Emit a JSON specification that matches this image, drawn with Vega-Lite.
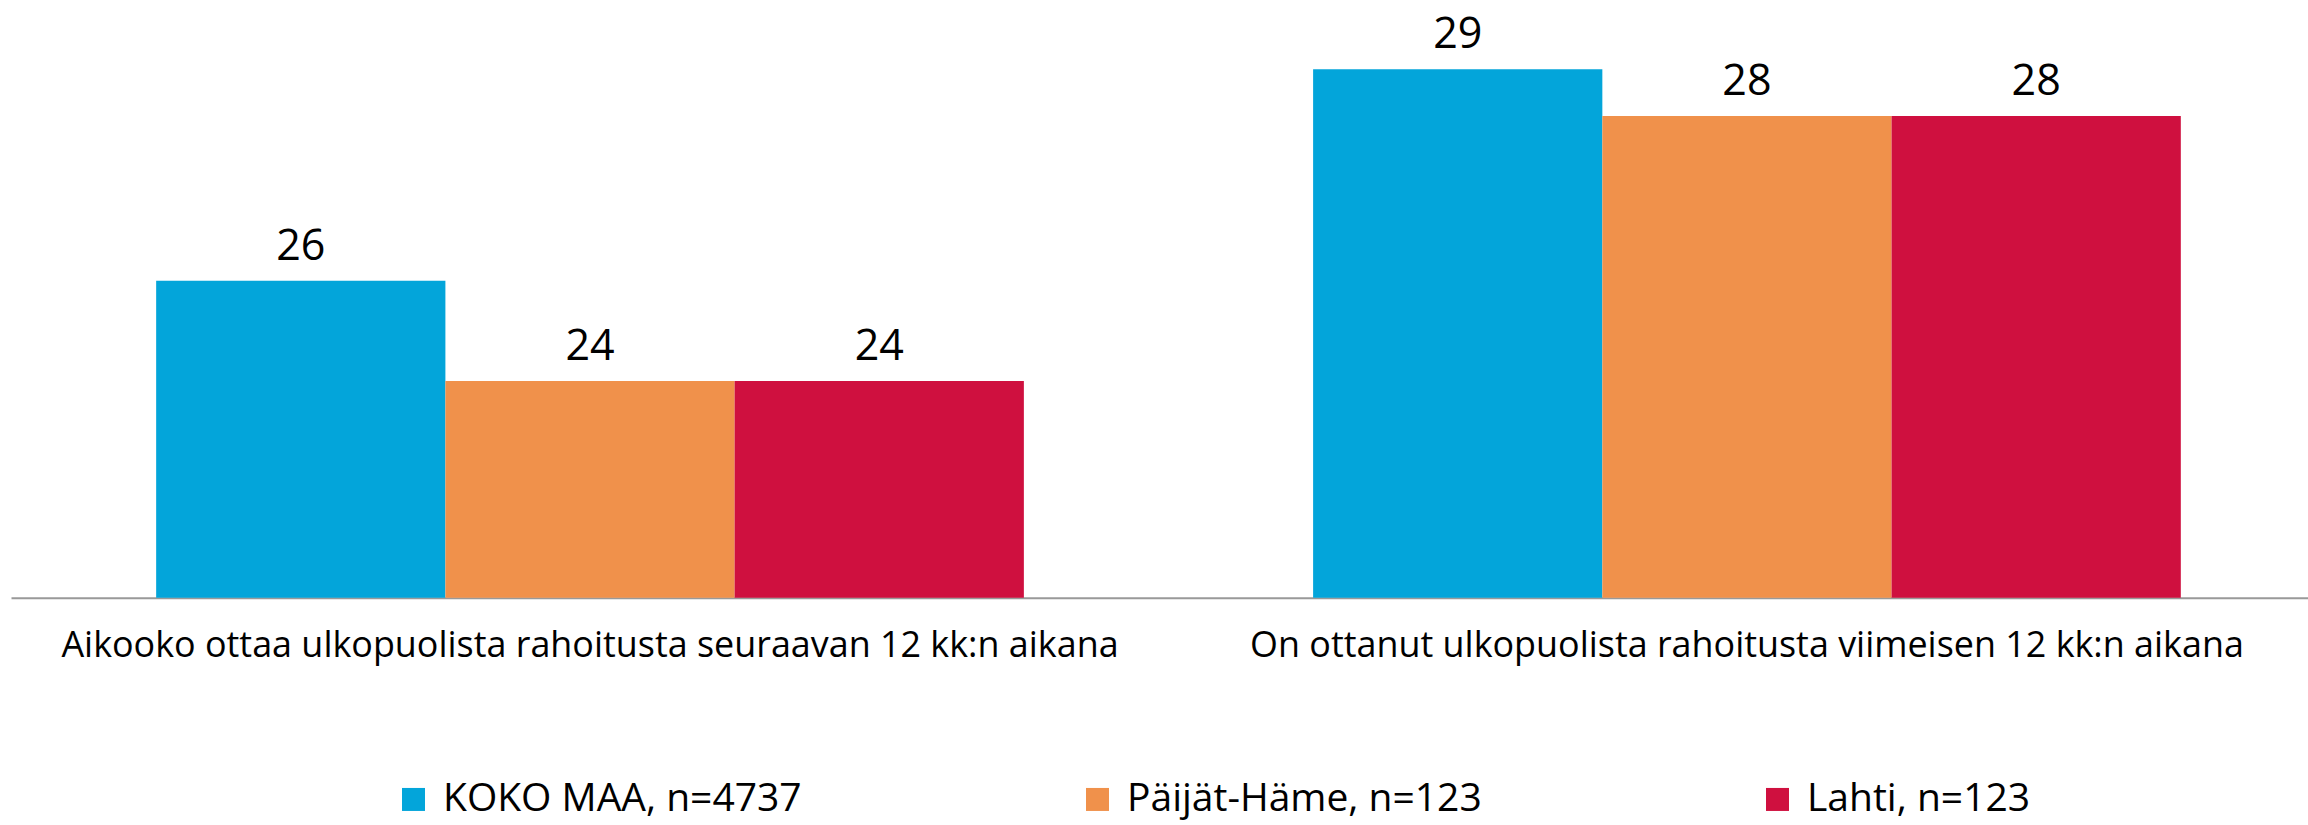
{
  "$schema": "https://vega.github.io/schema/vega-lite/v6.json",
  "width": 2297,
  "height": 570,
  "autosize": {"type": "none"},
  "padding": {"left": 11, "top": 27.7, "right": 0, "bottom": 227.3},
  "background": "white",
  "config": {"view": {"stroke": null}, "font": "Open Sans"},
  "data": {
    "values": [
      {"q": "Aikooko ottaa ulkopuolista rahoitusta seuraavan 12 kk:n aikana", "s": "KOKO MAA, n=4737", "v": 25.56},
      {"q": "Aikooko ottaa ulkopuolista rahoitusta seuraavan 12 kk:n aikana", "s": "Päijät-Häme, n=123", "v": 23.8},
      {"q": "Aikooko ottaa ulkopuolista rahoitusta seuraavan 12 kk:n aikana", "s": "Lahti, n=123", "v": 23.8},
      {"q": "On ottanut ulkopuolista rahoitusta viimeisen 12 kk:n aikana", "s": "KOKO MAA, n=4737", "v": 29.27},
      {"q": "On ottanut ulkopuolista rahoitusta viimeisen 12 kk:n aikana", "s": "Päijät-Häme, n=123", "v": 28.45},
      {"q": "On ottanut ulkopuolista rahoitusta viimeisen 12 kk:n aikana", "s": "Lahti, n=123", "v": 28.45}
    ]
  },
  "encoding": {
    "x": {
      "field": "q", "type": "nominal", "sort": null, "title": null,
      "scale": {"paddingInner": 0.25, "paddingOuter": 0.1177, "align": 0.533},
      "axis": {
        "labelAngle": 0, "ticks": false, "tickSize": 0, "labelPadding": 59,
        "labelBaseline": "alphabetic", "labelFontSize": 35.9, "labelColor": "#000000",
        "labelFont": "Open Sans", "labelLimit": 3000,
        "domainColor": "#999999", "domainWidth": 2, "grid": false
      }
    },
    "xOffset": {"field": "s", "type": "nominal", "sort": ["KOKO MAA, n=4737", "Päijät-Häme, n=123", "Lahti, n=123"], "scale": {"paddingInner": 0, "paddingOuter": 0}},
    "y": {"field": "v", "type": "quantitative", "scale": {"domain": [20, 30], "zero": false, "nice": false}, "axis": null}
  },
  "layer": [
    {
      "mark": {"type": "bar"},
      "encoding": {
        "y2": {"datum": 20},
        "color": {
          "field": "s", "type": "nominal",
          "sort": ["KOKO MAA, n=4737", "Päijät-Häme, n=123", "Lahti, n=123"],
          "scale": {"domain": ["KOKO MAA, n=4737", "Päijät-Häme, n=123", "Lahti, n=123"], "range": ["#03A5DA", "#F0914B", "#CF103F"]},
          "legend": {
            "title": null, "orient": "none", "direction": "horizontal",
            "legendX": 383, "legendY": 752, "padding": 0,
            "symbolType": "square", "symbolSize": 529, "symbolStrokeWidth": 0,
            "labelFontSize": 39, "labelFont": "Open Sans", "labelColor": "#000000",
            "labelOffset": 10, "columnPadding": 276, "labelLimit": 2000
          }
        }
      }
    },
    {
      "mark": {"type": "text", "dy": -21, "baseline": "alphabetic", "fontSize": 43, "font": "Open Sans", "color": "#000000"},
      "encoding": {"text": {"field": "v", "type": "quantitative", "format": ".0f"}}
    }
  ]
}
